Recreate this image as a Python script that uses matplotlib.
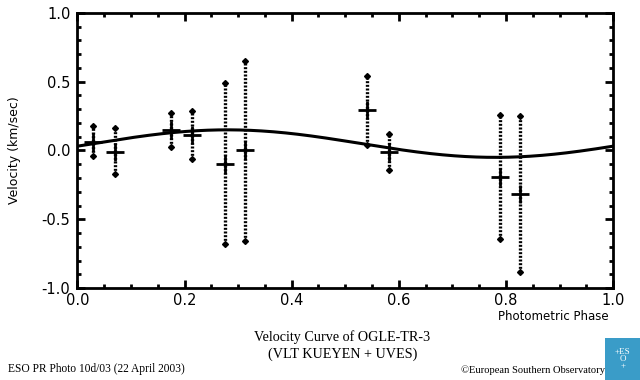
import numpy as np
import matplotlib
matplotlib.use("Agg")
import matplotlib.pyplot as plt
from matplotlib.ticker import MultipleLocator
from matplotlib.patches import Rectangle

# Data
phase = [0.029, 0.071, 0.175, 0.214, 0.275, 0.312, 0.540, 0.581, 0.789, 0.826]
velocity = [0.06, -0.01, 0.146, 0.11, -0.10, 0.0, 0.293, -0.01, -0.195, -0.317]
err_up = [0.12, 0.17, 0.13, 0.175, 0.59, 0.65, 0.25, 0.13, 0.45, 0.57]
err_dn = [0.10, 0.16, 0.12, 0.17, 0.58, 0.66, 0.25, 0.13, 0.45, 0.57]

# Sinusoidal fit (systemic velocity, semi-amplitude, phase of maximum)
gamma = 0.05
K = 0.10
phase_max = 0.28

fig = plt.figure(figsize=(6.4, 3.8), dpi=100)
ax = fig.add_axes([0.121, 0.242, 0.837, 0.724])

xs = np.linspace(0, 1, 400)
ax.plot(xs, gamma + K * np.cos(2 * np.pi * (xs - phase_max)), color="black", lw=2.2, zorder=3)

ph = np.array(phase)
v = np.array(velocity)
lo = v - np.array(err_dn)
hi = v + np.array(err_up)
ax.vlines(ph, lo, hi, colors="black", linestyles=(0, (0.6, 0.5)), lw=2.4, zorder=2)
ax.plot(ph, lo, ls="none", marker="D", ms=3.0, color="black", zorder=4)
ax.plot(ph, hi, ls="none", marker="D", ms=3.0, color="black", zorder=4)
ax.plot(ph, v, ls="none", marker="+", ms=13, mew=2.0, color="black", zorder=5)

ax.set_xlim(0, 1)
ax.set_ylim(-1, 1)
ax.xaxis.set_major_locator(MultipleLocator(0.2))
ax.xaxis.set_minor_locator(MultipleLocator(0.05))
ax.yaxis.set_major_locator(MultipleLocator(0.5))
ax.yaxis.set_minor_locator(MultipleLocator(0.1))
ax.tick_params(which="both", direction="in", top=True, right=True, width=2, color="black")
ax.tick_params(which="major", length=6, labelsize=10.5, pad=5)
ax.tick_params(axis="x", which="major", pad=3.5)
ax.tick_params(which="minor", length=3)
for s in ax.spines.values():
    s.set_linewidth(2)
ax.set_xticklabels([f"{t:.1f}" for t in ax.get_xticks()])
ax.set_yticklabels([f"{t:.1f}" for t in ax.get_yticks()])

fig.text(0.022, 0.605, "Velocity (km/sec)", rotation=90, ha="center", va="center",
         fontsize=9, family=["Liberation Sans Narrow", "DejaVu Sans"])
fig.text(0.951, 0.166, "Photometric Phase", ha="right", va="center", fontsize=8.5)

fig.text(0.535, 0.09, "Velocity Curve of OGLE-TR-3\n(VLT KUEYEN + UVES)", ha="center",
         va="center", fontsize=10.2, family="Liberation Serif", linespacing=1.4)
fig.text(0.012, 0.012, "ESO PR Photo 10d/03 (22 April 2003)", ha="left", va="bottom",
         fontsize=8.3, family="Liberation Serif")
fig.text(0.945, 0.012, "\u00a9European Southern Observatory", ha="right", va="bottom",
         fontsize=7.6, family="Liberation Serif")

fig.patches.append(Rectangle((0.946, 0.0), 0.054, 0.11, transform=fig.transFigure,
                             facecolor="#3a9cc8", edgecolor="none"))
fig.text(0.973, 0.055, "+ES\nO\n+", ha="center", va="center", fontsize=6.5, color="white",
         family="Liberation Serif", linespacing=0.85)

fig.savefig("out.png", dpi=100)
